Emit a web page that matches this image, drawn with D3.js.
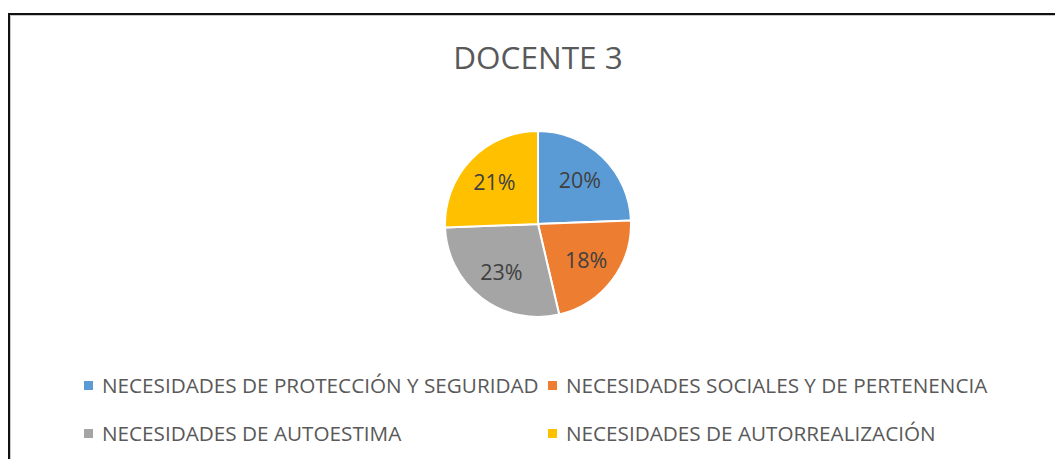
<!DOCTYPE html>
<html>
<head>
<meta charset="utf-8">
<script src="https://cdn.jsdelivr.net/npm/d3@7"></script>
<style>
  body { margin: 0; background: #fff; }
  svg { display: block; font-family: "Open Sans", sans-serif; }
</style>
</head>
<body>
<svg width="1055" height="459"></svg>
<script>
// data
var title = "DOCENTE 3";
var categories = [
  "NECESIDADES DE PROTECCIÓN Y SEGURIDAD",
  "NECESIDADES SOCIALES Y DE PERTENENCIA",
  "NECESIDADES DE AUTOESTIMA",
  "NECESIDADES DE AUTORREALIZACIÓN"
];
var values = [20, 18, 23, 21];
var colors = ["#5b9bd5", "#ed7d31", "#a5a5a5", "#ffc000"];

var svg = d3.select("svg");
var width = 1055, height = 459;

// frame (chart box clipped by the window on right/bottom)
svg.append("rect")
    .attr("x", 9).attr("y", 14)
    .attr("width", 1100).attr("height", 500)
    .attr("fill", "none")
    .attr("stroke", "#c8c8c8")
    .attr("stroke-width", 2)
    .attr("transform", "translate(1,1)");
svg.append("rect")
    .attr("x", 9).attr("y", 14)
    .attr("width", 1100).attr("height", 500)
    .attr("fill", "none")
    .attr("stroke", "#111")
    .attr("stroke-width", 2);

svg.append("text")
    .attr("x", 538)
    .attr("y", 69)
    .attr("text-anchor", "middle")
    .attr("fill", "#595959")
    .attr("font-size", "31.5px")
    .text(title);

var cx = 538, cy = 224, radius = 93;

var pie = d3.pie().sort(null).value(function(d) { return d; });
var arc = d3.arc().innerRadius(0).outerRadius(radius);
var labelArc = d3.arc().innerRadius(radius * 0.65).outerRadius(radius * 0.65);

var g = svg.append("g").attr("transform", "translate(" + cx + "," + cy + ")");
var arcs = pie(values);

g.selectAll("path")
    .data(arcs)
  .enter().append("path")
    .attr("d", arc)
    .attr("fill", function(d, i) { return colors[i]; })
    .attr("stroke", "#fff")
    .attr("stroke-width", 2);

g.selectAll("text")
    .data(arcs)
  .enter().append("text")
    .attr("transform", function(d) {
      var c = labelArc.centroid(d);
      return "translate(" + c[0] + "," + c[1] + ")";
    })
    .attr("text-anchor", "middle")
    .attr("dy", "0.36em")
    .attr("fill", "#404040")
    .attr("font-size", "21.5px")
    .text(function(d) { return d.data + "%"; });

// legend, 2 columns
var legendX = [84, 548], legendY = [386, 434];
var legend = svg.append("g").selectAll("g")
    .data(categories)
  .enter().append("g")
    .attr("transform", function(d, i) {
      return "translate(" + legendX[i % 2] + "," + legendY[Math.floor(i / 2)] + ")";
    });
legend.append("rect")
    .attr("x", 0).attr("y", -5)
    .attr("width", 9).attr("height", 9)
    .attr("fill", function(d, i) { return colors[i]; });
legend.append("text")
    .attr("x", 18)
    .attr("dy", "0.35em")
    .attr("fill", "#595959")
    .attr("font-size", "20.7px")
    .text(function(d) { return d; });
</script>
</body>
</html>
